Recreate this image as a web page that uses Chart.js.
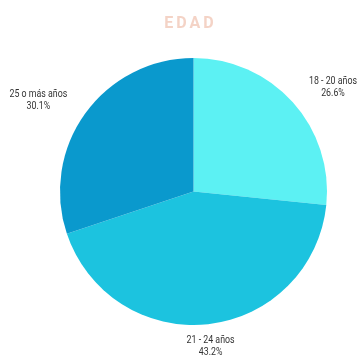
<!DOCTYPE html>
<html lang="es">
<head>
<meta charset="utf-8">
<title>Edad</title>
<script src="https://cdn.jsdelivr.net/npm/chart.js@4/dist/chart.umd.min.js"></script>
<style>
  html, body { margin: 0; padding: 0; background: #fff; }
  canvas { display: block; }
</style>
</head>
<body>
<canvas id="grafico" width="357" height="355"></canvas>
<script>
// Datos de la gráfica
const titulo = "EDAD";
const categorias = ["18 - 20 años", "21 - 24 años", "25 o más años"];
const porcentajes = [26.6, 43.2, 30.1];
const colores = ["#5cf1f3", "#1cc3df", "#0a99cd"];

// Texto estrecho (tipo condensada): se escala en horizontal
const ESTRECHO = 0.84;

// Plugin para el título y las etiquetas fuera de cada porción
const etiquetasPlugin = {
  id: "etiquetas",
  afterDraw(chart) {
    const ctx = chart.ctx;
    ctx.save();

    // Título
    ctx.font = "bold 16px Roboto, 'DejaVu Sans', sans-serif";
    ctx.letterSpacing = "3px";
    ctx.fillStyle = "#f4d3c6";
    ctx.textBaseline = "middle";
    ctx.textAlign = "left";
    const anchoTitulo = ctx.measureText(titulo).width - 3;
    ctx.fillText(titulo, 189 - anchoTitulo / 2, 24);
    ctx.letterSpacing = "0px";

    // Etiquetas
    ctx.font = "10.5px Roboto, 'Liberation Sans', sans-serif";
    ctx.fillStyle = "#333";
    ctx.textAlign = "center";
    const meta = chart.getDatasetMeta(0);
    meta.data.forEach((arc, i) => {
      const medio = (arc.startAngle + arc.endAngle) / 2;
      const dist = arc.outerRadius + 22;
      const x = arc.x + Math.cos(medio) * dist;
      const y = arc.y + Math.sin(medio) * dist;
      const lineas = [categorias[i], porcentajes[i].toFixed(1) + "%"];
      const ancho = Math.max(...lineas.map(l => ctx.measureText(l).width)) * ESTRECHO;
      let cx = x;
      if (Math.cos(medio) > 0.3) cx = x + ancho / 2;
      else if (Math.cos(medio) < -0.3) cx = x - ancho / 2;
      const alto = 12;
      lineas.forEach((l, j) => {
        ctx.save();
        ctx.translate(cx, y - alto / 2 + j * alto);
        ctx.scale(ESTRECHO, 1);
        ctx.fillText(l, 0, 0);
        ctx.restore();
      });
    });
    ctx.restore();
  }
};

new Chart(document.getElementById("grafico"), {
  type: "pie",
  data: {
    labels: categorias,
    datasets: [{
      data: porcentajes,
      backgroundColor: colores,
      borderWidth: 0
    }]
  },
  options: {
    responsive: false,
    animation: false,
    layout: { padding: { left: 60, right: 30, top: 58, bottom: 30 } },
    plugins: {
      legend: { display: false },
      tooltip: { enabled: false }
    }
  },
  plugins: [etiquetasPlugin]
});
</script>
</body>
</html>
